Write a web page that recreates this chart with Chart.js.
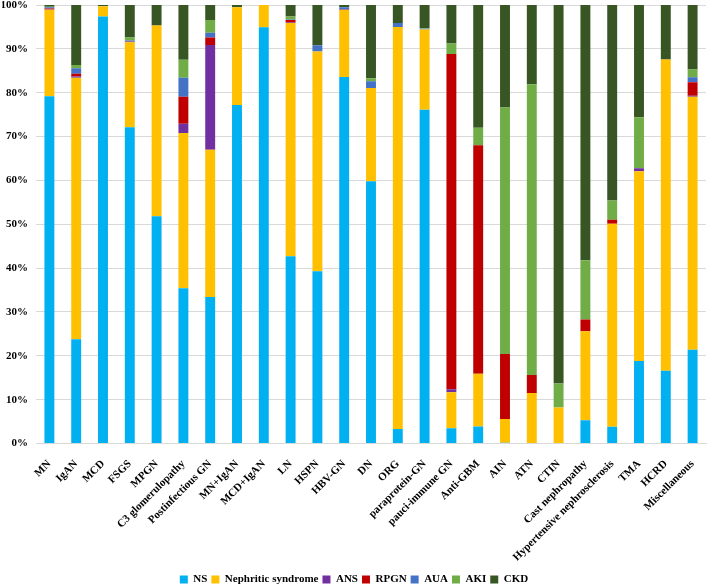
<!DOCTYPE html>
<html>
<head>
<meta charset="utf-8">
<script src="https://cdn.jsdelivr.net/npm/chart.js@4"></script>
<style>
  html, body { margin: 0; padding: 0; background: #fff; }
  #wrap { width: 708px; height: 586px; }
</style>
</head>
<body>
<div id="wrap"><canvas id="chart" width="708" height="586"></canvas></div>
<script>
// categorie (asse x)
const categories = [
  "MN", "IgAN", "MCD", "FSGS", "MPGN", "C3 glomerulopathy", "Postinfectious GN",
  "MN+IgAN", "MCD+IgAN", "LN", "HSPN", "HBV-GN", "DN", "ORG", "paraprotein-GN",
  "pauci-immune GN", "Anti-GBM", "AIN", "ATN", "CTIN", "Cast nephropathy",
  "Hypertensive nephrosclerosis", "TMA", "HCRD", "Miscellaneous"
];

// percentuali, una lista per serie
const ns      = [79.2, 23.8, 97.4, 72.1, 51.8, 35.4, 33.4, 77.2, 94.9, 42.7, 39.3, 83.6, 59.8, 3.3, 76.1, 3.5, 3.9, 0.2, 0, 0, 5.3, 3.8, 18.8, 16.6, 21.4];
const nephritic = [19.7, 59.6, 2.3, 19.4, 43.5, 35.4, 33.6, 22.3, 5.1, 53.2, 50.1, 15.3, 21.3, 91.7, 18.3, 8.2, 12.0, 5.4, 11.5, 8.2, 20.3, 46.3, 43.3, 71.0, 57.7];
const ans     = [0.1, 0.3, 0, 0.1, 0, 2.1, 23.9, 0, 0, 0.1, 0, 0.2, 0, 0, 0, 0.7, 0, 0, 0, 0, 0, 0, 0.7, 0, 0.2];
const rpgn    = [0.2, 0.6, 0, 0.1, 0, 6.2, 1.7, 0, 0, 0.6, 0, 0, 0, 0, 0, 76.4, 52.1, 14.8, 4.1, 0, 2.7, 0.9, 0, 0, 3.1];
const aua     = [0.3, 1.3, 0, 0.2, 0, 4.3, 1.1, 0, 0, 0.1, 1.4, 0.4, 1.5, 0.9, 0.2, 0, 0, 0, 0, 0, 0, 0, 0, 0, 1.1];
const aki     = [0.1, 0.7, 0.1, 0.7, 0, 4.1, 2.9, 0, 0, 0.7, 0, 0, 0.7, 0, 0.1, 2.4, 4.0, 56.2, 66.3, 5.5, 13.5, 4.4, 11.6, 0, 1.8];
const ckd     = [0.4, 13.7, 0.2, 7.4, 4.7, 12.5, 3.4, 0.5, 0, 2.6, 9.2, 0.5, 16.7, 4.1, 5.3, 8.8, 28.0, 23.4, 18.1, 86.3, 58.2, 44.6, 25.6, 12.4, 14.7];

const yTicks = [0, 10, 20, 30, 40, 50, 60, 70, 80, 90, 100];

const font = { family: "'Liberation Serif', 'Times New Roman', serif", weight: "bold", size: 11 };

const series = [
  { label: "NS", data: ns, color: "#00B0F0" },
  { label: "Nephritic syndrome", data: nephritic, color: "#FFC000" },
  { label: "ANS", data: ans, color: "#7030A0" },
  { label: "RPGN", data: rpgn, color: "#C00000" },
  { label: "AUA", data: aua, color: "#4472C4" },
  { label: "AKI", data: aki, color: "#70AD47" },
  { label: "CKD", data: ckd, color: "#375623" }
];

const ctx = document.getElementById("chart").getContext("2d");
new Chart(ctx, {
  type: "bar",
  data: {
    labels: categories,
    datasets: series.map(s => ({
      label: s.label,
      data: s.data,
      backgroundColor: s.color,
      borderWidth: 0,
      categoryPercentage: 1,
      barPercentage: 0.37
    }))
  },
  options: {
    responsive: false,
    animation: false,
    layout: { padding: { top: 0, right: 2, left: 2, bottom: -9 } },
    plugins: {
      legend: {
        position: "bottom",
        labels: { font: font, color: "#000", boxWidth: 8, boxHeight: 8, padding: 4 }
      },
      tooltip: { enabled: false }
    },
    scales: {
      x: {
        stacked: true,
        grid: { display: false },
        border: { display: true, color: "#D9D9D9" },
        ticks: { font: font, color: "#000", maxRotation: 45, minRotation: 45, autoSkip: false, padding: 6 }
      },
      y: {
        stacked: true,
        min: 0,
        max: 100,
        afterBuildTicks: axis => { axis.ticks = yTicks.map(v => ({ value: v })); },
        afterFit: axis => { axis.width = 34; axis.paddingTop = 5; },
        grid: { color: "#D9D9D9", drawTicks: false },
        border: { display: false },
        ticks: { font: font, color: "#000", padding: 8, callback: v => v + "%" }
      }
    }
  }
});
</script>
</body>
</html>
